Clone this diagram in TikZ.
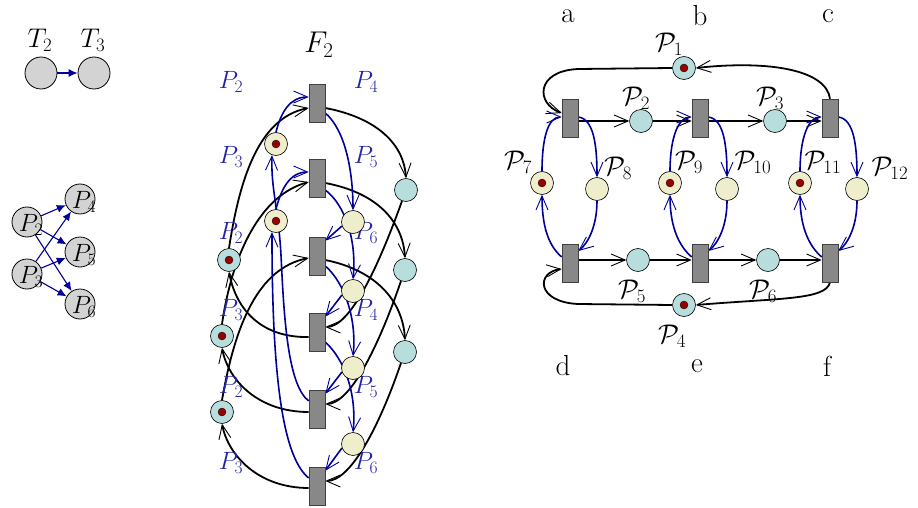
\RequirePackage{fix-cm}
\documentclass[tikz,border=0pt]{standalone}
\usetikzlibrary{arrows.meta}
\pgfdeclarelayer{bg}
\pgfsetlayers{bg,main}
\definecolor{cyanpl}{RGB}{184,221,221}
\definecolor{creampl}{RGB}{238,238,204}
\definecolor{transgray}{RGB}{136,136,136}
\definecolor{lgray}{RGB}{211,211,211}
\definecolor{arcblue}{RGB}{0,0,153}
\definecolor{lblblue}{RGB}{34,34,170}
\definecolor{tokred}{RGB}{153,0,0}
\begin{document}
\begin{tikzpicture}[x=1pt,y=-1pt,
  trans/.style={rectangle, draw=black!75, line width=0.6pt, fill=transgray, minimum width=16pt, minimum height=38pt, inner sep=0pt},
  cpl/.style={circle, draw=black, line width=0.6pt, fill=cyanpl, minimum size=23pt, inner sep=0pt},
  ypl/.style={circle, draw=black, line width=0.6pt, fill=creampl, minimum size=23pt, inner sep=0pt},
  tok/.style={circle, draw=black, line width=0.3pt, fill=tokred, minimum size=8pt, inner sep=0pt},
  gpl/.style={circle, draw=black, line width=0.8pt, fill=lgray, minimum size=30pt, inner sep=0pt},
  karc/.style={-{Straight Barb[length=14pt,width=12pt,line width=0.9pt]}, line width=1.8pt, draw=black},
  barc/.style={-{Straight Barb[length=14pt,width=12pt,line width=0.9pt]}, line width=1.6pt, draw=arcblue},
  larr/.style={-{Latex[length=9pt,width=8pt]}, line width=1.1pt, draw=arcblue},
  blbl/.style={text=lblblue, font=\fontsize{25}{28}\selectfont, inner sep=0pt},
  klbl/.style={text=black, font=\fontsize{27}{30}\selectfont, inner sep=0pt},
  qlbl/.style={text=black, font=\fontsize{27}{30}\selectfont, inner sep=0pt},
  rlbl/.style={text=black, font=\fontsize{29}{32}\selectfont, inner sep=0pt},
  glbl/.style={text=black, font=\fontsize{25}{28}\selectfont, inner sep=0pt},
]
\useasboundingbox (0,0) rectangle (918,508);

% ---------- left figure ----------
\node[klbl] (t2l) at (40,40) {$T_2$};
\node[klbl] (t3l) at (93,40) {$T_3$};
\node[gpl, minimum size=32pt] (t2c) at (41,73) {};
\node[gpl, minimum size=32pt] (t3c) at (94,73) {};
\draw[larr] (t2c) -- (t3c);
\foreach \n/\x/\y in {2/27/222, 3/27/274, 4/80/199, 5/80/252, 6/80/304} {
  \node[gpl] (lp\n) at (\x,\y) {};
}
\foreach \s in {2,3} {\foreach \d in {4,5,6} {\draw[larr] (lp\s) -- (lp\d);}}
\foreach \n/\x/\y in {2/27/222, 3/27/274, 4/80/199, 5/80/252, 6/80/304} {
  \node[glbl] (lpl\n) at (\x+4,\y+3) {$P_\n$};
}

% ---------- middle figure ----------
\node[klbl, font=\fontsize{30}{33}\selectfont] (F2) at (319,45) {$F_2$};
\foreach \i/\yy/\la/\lb in {1/82/2/4, 2/157/3/5, 3/233/2/6, 4/310/3/4, 5/387/2/5, 6/463/3/6} {
  \node[blbl] (ml\i) at (231,\yy) {$P_\la$};
  \node[blbl] (mr\i) at (366,\yy) {$P_\lb$};
}
\node[trans] (T1) at (317,103) {};
\node[trans] (T2) at (317,178) {};
\node[trans] (T3) at (317,256) {};
\node[trans] (T4) at (317,332) {};
\node[trans] (T5) at (317,409) {};
\node[trans] (T6) at (317,486) {};
\node[ypl] (YL1) at (276,144) {};
\node[ypl] (YL2) at (276,221) {};
\node[ypl] (YR1) at (353,222) {};
\node[ypl] (YR2) at (353,291) {};
\node[ypl] (YR3) at (353,368) {};
\node[ypl] (YR4) at (353,444) {};
\node[cpl] (L1) at (229,260) {};
\node[cpl] (L2) at (222,336) {};
\node[cpl] (L3) at (222,412) {};
\node[cpl] (R1) at (406,190) {};
\node[cpl] (R2) at (405,270) {};
\node[cpl] (R3) at (405,352) {};
\foreach \p in {YL1,YL2,L1,L2,L3} {\node[tok] (k\p) at (\p) {};}

% ---------- right figure ----------
\node[trans] (ta) at (570,118) {};
\node[trans] (tb) at (700,118) {};
\node[trans] (tc) at (830,118) {};
\node[trans] (td) at (570,263) {};
\node[trans] (te) at (700,263) {};
\node[trans] (tf) at (830,263) {};
\node[cpl] (Q1) at (684,68) {};
\node[cpl] (Q2) at (641,121) {};
\node[cpl] (Q3) at (775,121) {};
\node[cpl] (Q4) at (684,305) {};
\node[cpl] (Q5) at (638,260) {};
\node[cpl] (Q6) at (768,260) {};
\node[ypl] (Q7) at (542,183) {};
\node[ypl] (Q8) at (597,189) {};
\node[ypl] (Q9) at (670,183) {};
\node[ypl] (Q10) at (727,189) {};
\node[ypl] (Q11) at (800,183) {};
\node[ypl] (Q12) at (857,189) {};
\foreach \p in {Q1,Q4,Q7,Q9,Q11} {\node[tok] (k\p) at (\p) {};}

\node[rlbl] (la) at (568,16) {a};
\node[rlbl] (lb) at (700,16) {b};
\node[rlbl] (lc) at (828,16) {c};
\node[rlbl] (ld) at (563,366) {d};
\node[rlbl] (le) at (697,366) {e};
\node[rlbl] (lf) at (827,366) {f};
\foreach \n/\x/\y in {1/669/44, 2/636/98, 3/770/98, 7/518/162, 8/618/168, 9/689/162, 10/753/162, 11/823/162, 12/890/168, 5/632/291, 6/763/291, 4/672/336} {
  \node[qlbl] (lq\n) at (\x,\y) {$\mathcal{P}_{\n}$};
}

\begin{pgfonlayer}{bg}
% middle black arcs
\draw[karc] (L1.north) .. controls (238,190) and (255,118) .. ([yshift=-5pt]T1.west);
\draw[karc] ([yshift=-5pt]T1.east) .. controls (378,118) and (404,145) .. (R1.north);
\draw[karc] (L2.north) .. controls (232,255) and (260,195) .. ([yshift=-4pt]T2.west);
\draw[karc] ([yshift=-5pt]T2.east) .. controls (378,193) and (403,222) .. (R2.north);
\draw[karc] (L3.north) .. controls (235,325) and (258,268) .. ([yshift=-2pt]T3.west);
\draw[karc] ([yshift=-4pt]T3.east) .. controls (375,270) and (403,300) .. (R3.north);
\draw[karc] (R1.250) .. controls (378,268) and (350,327) .. ([yshift=5pt]T4.east);
\draw[karc] (R2.250) .. controls (378,348) and (350,404) .. ([yshift=5pt]T5.east);
\draw[karc] (R3.250) .. controls (378,430) and (350,481) .. ([yshift=5pt]T6.east);
\draw[karc] ([yshift=-5pt]T4.west) .. controls (262,338) and (236,310) .. (L1.south);
\draw[karc] ([yshift=-3pt]T5.west) .. controls (258,412) and (228,380) .. (L2.south);
\draw[karc] ([yshift=-2pt]T6.west) .. controls (258,488) and (228,455) .. (L3.south);
% middle blue arcs
\draw[barc] (YL1.north) .. controls (281,112) and (290,97) .. ([yshift=6pt]T1.west);
\draw[barc] (YL2.north) .. controls (281,189) and (290,172) .. ([yshift=6pt]T2.west);
\draw[barc] ([yshift=-10pt]T1.east) .. controls (345,130) and (353,170) .. (YR1.north);
\draw[barc] ([yshift=-12pt]T2.east) .. controls (345,205) and (357,240) .. (YR2.north);
\draw[barc] ([yshift=-10pt]T3.east) .. controls (345,283) and (357,320) .. (YR3.north);
\draw[barc] ([yshift=-10pt]T4.east) .. controls (345,360) and (357,395) .. (YR4.north);
\draw[barc] (YR1.200) -- ([yshift=-4pt]T3.north east);
\draw[barc] (YR2.200) -- ([yshift=-4pt]T4.north east);
\draw[barc] (YR3.200) -- ([yshift=-4pt]T5.north east);
\draw[barc] (YR4.200) -- ([yshift=-4pt]T6.north east);
\draw[barc] ([yshift=8pt]T5.west) .. controls (288,385) and (284,320) .. (281,255) .. controls (278,205) and (271,190) .. (YL1.250);
\draw[barc] ([yshift=8pt]T6.west) .. controls (280,455) and (272,360) .. (YL2.250);
% right black arcs
\draw[karc] (ta.east |- Q2) -- (Q2.west);
\draw[karc] (Q2.east) -- (tb.west |- Q2);
\draw[karc] (tb.east |- Q3) -- (Q3.west);
\draw[karc] (Q3.east) -- (tc.west |- Q3);
\draw[karc] (td.east |- Q5) -- (Q5.west);
\draw[karc] (Q5.east) -- (te.west |- Q5);
\draw[karc] (te.east |- Q6) -- (Q6.west);
\draw[karc] (Q6.east) -- (tf.west |- Q6);
\draw[karc] (tc.north) .. controls (826,70) and (770,60) .. (Q1.east);
\draw[karc] (Q1.west) -- (578,69) .. controls (535,71) and (536,104) .. ([yshift=5pt]ta.west);
\draw[karc] (tf.south) .. controls (826,300) and (780,298) .. (Q4.east);
\draw[karc] (Q4.west) -- (578,304) .. controls (536,302) and (536,272) .. ([yshift=-6pt]td.west);
% right blue arcs
\foreach \xu/\xd/\xl/\xr in {ta/td/Q7/Q8, tb/te/Q9/Q10, tc/tf/Q11/Q12} {
  \draw[barc] (\xl.north) .. controls +(0,-32) and +(-14,0) .. ([yshift=1pt]\xu.west);
  \draw[barc] ([yshift=1pt]\xu.east) .. controls +(16,2) and +(0,-30) .. (\xr.north);
  \draw[barc] (\xr.south) .. controls +(0,25) and +(10,-8) .. ([yshift=12pt]\xd.east);
  \draw[barc] ([yshift=6pt]\xd.west) .. controls +(-14,-12) and +(0,30) .. (\xl.south);
}
\end{pgfonlayer}
\end{tikzpicture}
\end{document}
